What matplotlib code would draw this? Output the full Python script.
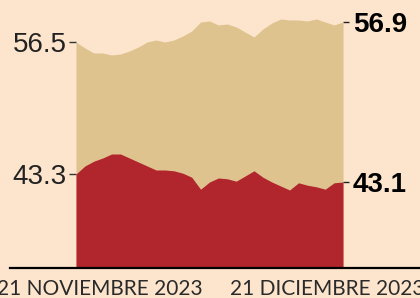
import pandas as pd
import matplotlib.pyplot as plt
from matplotlib.lines import Line2D
from matplotlib.transforms import ScaledTranslation

# daily series, 21 nov - 21 dic 2023
dates = pd.date_range('2023-11-21', '2023-12-21', freq='D')
aprueba = [56.5, 56.38, 56.28, 56.28, 56.24, 56.26, 56.32, 56.40, 56.50, 56.54,
           56.50, 56.54, 56.62, 56.72, 56.90, 56.92, 56.84, 56.86, 56.80, 56.70,
           56.60, 56.76, 56.88, 56.96, 56.94, 56.94, 56.92, 56.96, 56.90, 56.84,
           56.9]
desaprueba = [43.3, 43.50, 43.62, 43.70, 43.80, 43.80, 43.70, 43.60, 43.50, 43.40,
              43.40, 43.38, 43.32, 43.22, 42.92, 43.10, 43.20, 43.18, 43.12, 43.25,
              43.38, 43.22, 43.10, 43.00, 42.90, 43.08, 43.02, 42.98, 42.92, 43.08,
              43.1]
meses = {11: 'NOVIEMBRE', 12: 'DICIEMBRE'}

bg = '#fde5cd'
tan = '#dfc38f'
red = '#b1252d'

fig = plt.figure(figsize=(4.2, 2.98), dpi=100, facecolor=bg)
ax = fig.add_axes([76 / 420, 1 - 268 / 298, 267 / 420, 268 / 298])
ax.set_facecolor(bg)

ax.fill_between(dates, aprueba, 51.98, color=tan, lw=0)
ax.set_ylim(51.98, 57.34)
ax.set_xlim(dates[0], dates[-1])

ax2 = ax.twinx()
ax2.fill_between(dates, desaprueba, 40.95, color=red, lw=0)
ax2.set_ylim(40.95, 47.65)
ax2.yaxis.tick_left()

for a in (ax, ax2):
    for s in a.spines.values():
        s.set_visible(False)

num_font = dict(family='Liberation Sans', size=20)
ax.set_yticks([aprueba[0]], labels=[f'{aprueba[0]:.1f}'], **num_font, color='#222222')
ax2.set_yticks([desaprueba[0]], labels=[f'{desaprueba[0]:.1f}'], **num_font, color='#222222')
for a in (ax, ax2):
    a.tick_params(axis='y', which='both', left=True, right=False, labelleft=True,
                  labelright=False, length=5, width=1, color='#333333', pad=1.5)

# end values on the right, bold
for a, vals in ((ax, aprueba), (ax2, desaprueba)):
    sec = a.secondary_yaxis('right')
    sec.set_yticks([vals[-1]], labels=[f'{vals[-1]:.1f}'], family='Liberation Sans',
                   size=20, weight='bold', color='black')
    sec.tick_params(length=4, width=1, color='#222222', pad=3)
    sec.spines['right'].set_visible(False)

# x labels
ax.set_xticks([dates[0], dates[-1]],
              labels=[f'{d.day} {meses[d.month]} {d.year}' for d in (dates[0], dates[-1])],
              family='Lato', size=15, color='#2a2a2a')
ax.tick_params(axis='x', length=0, pad=8)
offs = [24, -16]
for lab, dx in zip(ax.get_xticklabels(), offs):
    lab.set_transform(lab.get_transform() + ScaledTranslation(dx / 100, 0, fig.dpi_scale_trans))

# baseline
fig.add_artist(Line2D([10 / 420, 1], [1 - 268 / 298] * 2, color='black', lw=1.6,
                      transform=fig.transFigure))

fig.savefig('out.png', dpi=100, facecolor=bg)
